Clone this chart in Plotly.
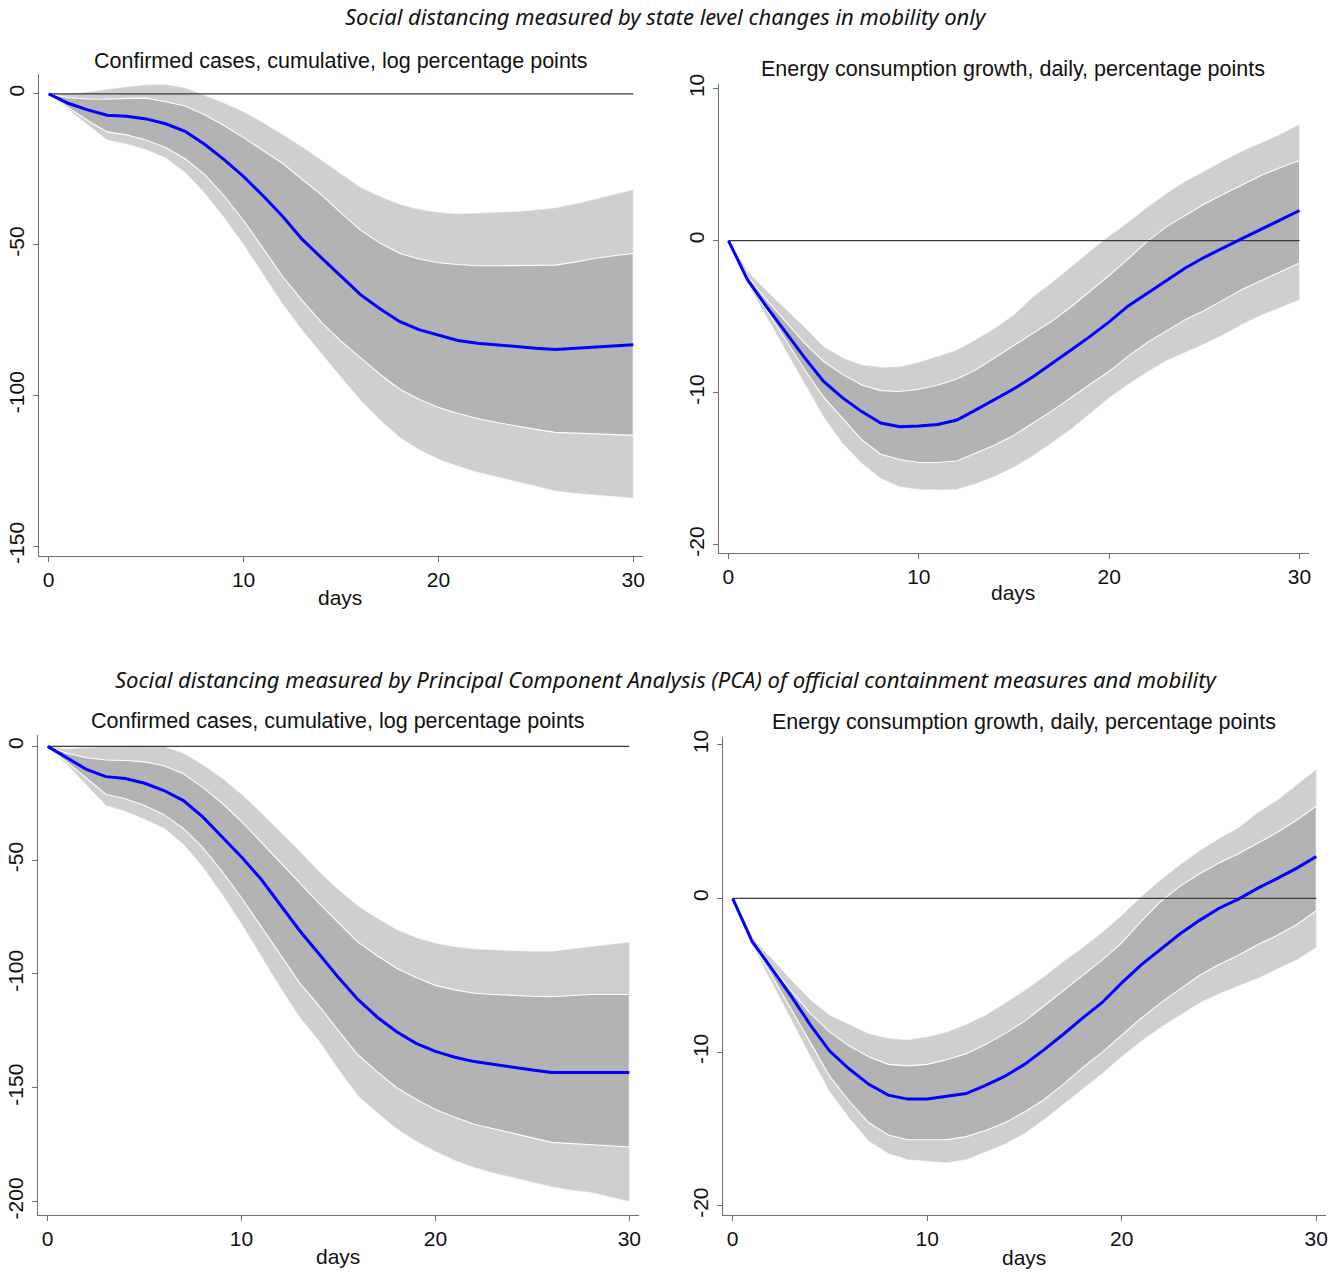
import plotly.graph_objects as go

W, H = 1341, 1273
# empirical vertical mapping of the rendered page (offset / drawn height)
V_OFF, V_H = 10.0, 1255.0

days = list(range(31))

# ---- Panel 1: confirmed cases (mobility only)
p1_mean = [0,-3.1,-5.3,-7.1,-7.4,-8.3,-9.9,-12.4,-16.7,-21.8,-27.4,-33.8,-40.6,-48.2,-54.4,-60.6,-66.6,-71.3,-75.5,-78.2,-80.1,-81.8,-82.7,-83.3,-83.9,-84.4,-84.8,-84.4,-84.0,-83.6,-83.2]
p1_up90 = [0,0.0,0.6,1.5,2.4,3.0,3.1,2.0,-0.4,-3.0,-5.9,-9.5,-13.5,-17.5,-22.0,-26.5,-31.0,-34.0,-36.6,-38.3,-39.3,-39.8,-39.6,-39.4,-39.0,-38.5,-37.8,-36.5,-35.0,-33.4,-31.7]
p1_up68 = [0,-1.3,-1.7,-1.8,-1.5,-1.4,-2.6,-4.0,-6.9,-10.5,-14.5,-18.7,-23.0,-28.3,-33.5,-39.5,-45.2,-49.5,-52.9,-54.8,-56.0,-56.6,-57.0,-57.0,-57.0,-57.0,-56.8,-55.8,-54.6,-53.7,-52.9]
p1_lo68 = [0,-4.5,-8.8,-12.6,-13.6,-15.3,-17.8,-21.5,-26.7,-33.8,-42.0,-51.3,-60.5,-68.5,-75.8,-82.0,-87.5,-93.0,-97.9,-101.3,-104.0,-106.0,-107.7,-109.0,-110.2,-111.3,-112.3,-112.6,-112.8,-113.0,-113.3]
p1_lo90 = [0,-5.0,-10.3,-15.3,-16.6,-18.5,-21.2,-26.1,-32.9,-41.0,-50.0,-59.8,-69.7,-78.3,-86.3,-94.0,-101.6,-108.2,-113.9,-118.0,-121.2,-123.5,-125.5,-127.1,-128.6,-130.2,-131.7,-132.5,-133.1,-133.6,-134.1]

# ---- Panel 2: energy consumption (mobility only)
p2_mean = [0,-2.57,-4.35,-6.05,-7.7,-9.27,-10.35,-11.25,-12.0,-12.24,-12.2,-12.1,-11.8,-11.14,-10.45,-9.75,-8.95,-8.1,-7.2,-6.3,-5.35,-4.3,-3.45,-2.6,-1.8,-1.1,-0.45,0.15,0.75,1.35,1.98]
p2_up90 = [0,-2.0,-3.3,-4.5,-5.7,-6.97,-7.7,-8.17,-8.33,-8.3,-8.0,-7.6,-7.2,-6.5,-5.76,-4.88,-3.7,-2.75,-1.7,-0.7,0.3,1.2,2.2,3.1,3.9,4.6,5.25,5.9,6.45,7.0,7.65]
p2_up68 = [0,-2.35,-3.9,-5.3,-6.75,-7.95,-8.8,-9.5,-9.87,-9.93,-9.78,-9.5,-9.1,-8.5,-7.7,-6.86,-6.1,-5.3,-4.35,-3.35,-2.3,-1.2,-0.05,0.9,1.65,2.4,3.05,3.7,4.3,4.8,5.27]
p2_lo68 = [0,-2.7,-4.55,-6.5,-8.5,-10.3,-11.7,-13.1,-14.05,-14.4,-14.6,-14.6,-14.5,-14.0,-13.45,-12.8,-12.0,-11.2,-10.35,-9.45,-8.6,-7.6,-6.7,-5.95,-5.2,-4.6,-3.9,-3.2,-2.6,-2.05,-1.47]
p2_lo90 = [0,-2.8,-5.0,-7.2,-9.4,-11.6,-13.35,-14.65,-15.65,-16.2,-16.37,-16.4,-16.37,-16.0,-15.5,-14.9,-14.15,-13.3,-12.4,-11.4,-10.35,-9.45,-8.65,-7.9,-7.35,-6.8,-6.2,-5.5,-4.9,-4.4,-3.9]

# ---- Panel 3: confirmed cases (PCA)
p3_mean = [0,-5.0,-10.1,-13.3,-14.1,-16.2,-19.4,-23.8,-31.0,-39.8,-48.6,-58.3,-69.5,-81.0,-91.2,-101.6,-111.2,-119.0,-125.4,-130.5,-134.0,-136.6,-138.5,-139.8,-141.0,-142.2,-143.3,-143.3,-143.4,-143.4,-143.3]
p3_up90 = [0,-1.0,-0.5,0.0,0.3,0.3,0.0,-3.0,-8.0,-14.0,-21.0,-29.0,-37.5,-46.0,-55.0,-63.0,-70.0,-75.5,-80.5,-84.0,-86.5,-88.0,-89.0,-89.5,-89.8,-90.0,-90.0,-89.0,-88.0,-87.0,-86.0]
p3_up68 = [0,-3.0,-5.0,-6.0,-6.2,-6.8,-8.5,-12.0,-18.0,-25.0,-33.0,-42.0,-51.0,-60.0,-69.0,-77.5,-86.0,-92.0,-97.5,-101.5,-105.0,-107.0,-108.5,-109.0,-109.5,-109.8,-110.0,-109.5,-109.0,-109.0,-109.0]
p3_lo68 = [0,-7.0,-14.0,-21.0,-23.0,-26.0,-30.0,-36.0,-44.5,-55.0,-66.5,-79.0,-91.5,-104.0,-114.0,-125.0,-135.5,-143.0,-150.0,-155.0,-159.5,-163.0,-166.0,-168.0,-170.0,-172.0,-174.0,-174.5,-175.0,-175.5,-176.0]
p3_lo90 = [0,-8.0,-17.0,-26.0,-28.5,-32.0,-36.0,-43.0,-53.0,-65.0,-78.0,-92.0,-106.0,-119.0,-129.5,-142.0,-153.5,-161.0,-168.0,-173.5,-178.0,-182.0,-185.0,-187.5,-189.5,-191.5,-193.5,-195.0,-196.0,-198.0,-200.0]

# ---- Panel 4: energy consumption (PCA)
p4_mean = [0,-2.8,-4.56,-6.34,-8.24,-9.95,-11.1,-12.1,-12.8,-13.06,-13.06,-12.9,-12.7,-12.16,-11.57,-10.8,-9.86,-8.84,-7.77,-6.77,-5.5,-4.32,-3.3,-2.3,-1.43,-0.64,-0.05,0.67,1.3,1.97,2.73]
p4_up90 = [0,-2.6,-3.9,-5.3,-6.6,-7.6,-8.2,-8.8,-9.1,-9.2,-9.0,-8.7,-8.2,-7.6,-6.8,-6.0,-5.1,-4.1,-3.2,-2.2,-1.1,0.1,1.2,2.2,3.1,3.9,4.6,5.6,6.4,7.4,8.4]
p4_up68 = [0,-2.7,-4.4,-6.0,-7.5,-8.7,-9.6,-10.3,-10.8,-10.9,-10.8,-10.5,-10.1,-9.5,-8.8,-8.0,-7.0,-6.0,-5.0,-4.0,-2.9,-1.5,-0.2,0.8,1.6,2.3,2.9,3.6,4.3,5.1,6.0]
p4_lo68 = [0,-2.9,-5.0,-7.2,-9.4,-11.6,-13.2,-14.6,-15.4,-15.7,-15.7,-15.7,-15.5,-15.1,-14.6,-13.9,-13.1,-12.1,-11.0,-10.0,-8.9,-7.8,-6.8,-5.9,-5.0,-4.3,-3.7,-3.0,-2.4,-1.7,-0.8]
p4_lo90 = [0,-3.0,-5.4,-7.9,-10.3,-12.6,-14.3,-15.8,-16.6,-17.0,-17.1,-17.2,-17.0,-16.5,-16.0,-15.3,-14.4,-13.4,-12.4,-11.4,-10.3,-9.3,-8.4,-7.6,-6.8,-6.2,-5.7,-5.2,-4.6,-4.0,-3.2]

x_ticks = [0, 10, 20, 30]
cases_ticks_top = [0, -50, -100, -150]
cases_ticks_bot = [0, -50, -100, -150, -200]
energy_ticks = [10, 0, -10, -20]

main_title_1 = "Social distancing measured by state level changes in mobility only"
main_title_2 = "Social distancing measured by Principal Component Analysis (PCA) of official containment measures and mobility"
title_cases = "Confirmed cases, cumulative, log percentage points"
title_energy = "Energy consumption growth, daily, percentage points"
x_title = "days"

LIGHT = "#cfcfcf"
DARK = "#b3b3b3"
BLUE = "#0000ff"
AXC = "#6e6e6e"
TXT = "#111111"
FONT = "Liberation Sans, Arial, sans-serif"

panels = [
    dict(mean=p1_mean, u90=p1_up90, u68=p1_up68, l68=p1_lo68, l90=p1_lo90,
         dom_px=(39, 644, 74, 556), yr=(-153.3, 6.6), yt=cases_ticks_top,
         title=title_cases, tpos=(342, 61), dpos=(341, 597)),
    dict(mean=p2_mean, u90=p2_up90, u68=p2_up68, l68=p2_lo68, l90=p2_lo90,
         dom_px=(720, 1311, 84, 553), yr=(-20.55, 10.3), yt=energy_ticks,
         title=title_energy, tpos=(1015, 69), dpos=(1015, 592)),
    dict(mean=p3_mean, u90=p3_up90, u68=p3_up68, l68=p3_lo68, l90=p3_lo90,
         dom_px=(38, 640, 735, 1215), yr=(-205.9, 5.0), yt=cases_ticks_bot,
         title=title_cases, tpos=(339, 721), dpos=(339, 1256)),
    dict(mean=p4_mean, u90=p4_up90, u68=p4_up68, l68=p4_lo68, l90=p4_lo90,
         dom_px=(724, 1328, 737, 1215), yr=(-20.6, 10.5), yt=energy_ticks,
         title=title_energy, tpos=(1026, 722), dpos=(1026, 1257)),
]

fig = go.Figure()
annotations = []


def px2paper(px, py):
    return px / W, 1 - (py - V_OFF) / V_H


for i, p in enumerate(panels, start=1):
    xa = "x" if i == 1 else f"x{i}"
    ya = "y" if i == 1 else f"y{i}"
    poly_x = days + days[::-1]
    fig.add_trace(go.Scatter(x=poly_x, y=p["u90"] + p["l90"][::-1], fill="toself",
                             fillcolor=LIGHT, line=dict(color="#f4f4f4", width=0.6),
                             mode="lines", xaxis=xa, yaxis=ya, showlegend=False,
                             hoverinfo="skip"))
    fig.add_trace(go.Scatter(x=poly_x, y=p["u68"] + p["l68"][::-1], fill="toself",
                             fillcolor=DARK, line=dict(color="white", width=1.1),
                             mode="lines", xaxis=xa, yaxis=ya, showlegend=False,
                             hoverinfo="skip"))
    fig.add_trace(go.Scatter(x=[days[0], days[-1]], y=[0, 0], mode="lines",
                             line=dict(color="#3a3a3a", width=1.4),
                             xaxis=xa, yaxis=ya, showlegend=False, hoverinfo="skip"))
    fig.add_trace(go.Scatter(x=days, y=p["mean"], mode="lines",
                             line=dict(color=BLUE, width=3),
                             xaxis=xa, yaxis=ya, showlegend=False))

    x0, x1, y0, y1 = p["dom_px"]
    xd = [x0 / W, x1 / W]
    yd = [px2paper(0, y1)[1], px2paper(0, y0)[1]]
    axis_common = dict(showline=True, linecolor=AXC, linewidth=1.2, ticks="outside",
                       ticklen=5, tickcolor=AXC, tickwidth=1.2, showgrid=False,
                       zeroline=False, tickfont=dict(family=FONT, size=21, color=TXT))
    fig.update_layout(**{
        ("xaxis" if i == 1 else f"xaxis{i}"): dict(
            domain=xd, range=[-0.5, 30.5], tickvals=x_ticks,
            ticktext=[str(v) for v in x_ticks], anchor=ya,
            ticklabelstandoff=0, **axis_common),
        ("yaxis" if i == 1 else f"yaxis{i}"): dict(
            domain=yd, range=list(p["yr"]), tickvals=p["yt"],
            ticktext=[str(v) for v in p["yt"]], tickangle=-90, anchor=xa,
            ticklabelstandoff=0, **axis_common),
    })
    tx, ty = px2paper(*p["tpos"])
    annotations.append(dict(text=p["title"], x=tx, y=ty, xref="paper", yref="paper",
                            xanchor="center", yanchor="middle", showarrow=False,
                            font=dict(family=FONT, size=21.5, color=TXT)))
    dx, dy = px2paper(*p["dpos"])
    annotations.append(dict(text=x_title, x=dx, y=dy, xref="paper", yref="paper",
                            xanchor="center", yanchor="middle", showarrow=False,
                            font=dict(family=FONT, size=21, color=TXT)))

for txt, pos in [(main_title_1, (667, 16)), (main_title_2, (667, 679))]:
    mx, my = px2paper(*pos)
    annotations.append(dict(text=f"<i>{txt}</i>", x=mx, y=my, xref="paper", yref="paper",
                            xanchor="center", yanchor="middle", showarrow=False,
                            font=dict(family="Noto Sans, Open Sans, sans-serif", size=22, color=TXT)))

fig.update_layout(width=W, height=H, margin=dict(l=0, r=0, t=0, b=0),
                  paper_bgcolor="white", plot_bgcolor="white",
                  annotations=annotations, showlegend=False)

fig.write_html("out.html")
